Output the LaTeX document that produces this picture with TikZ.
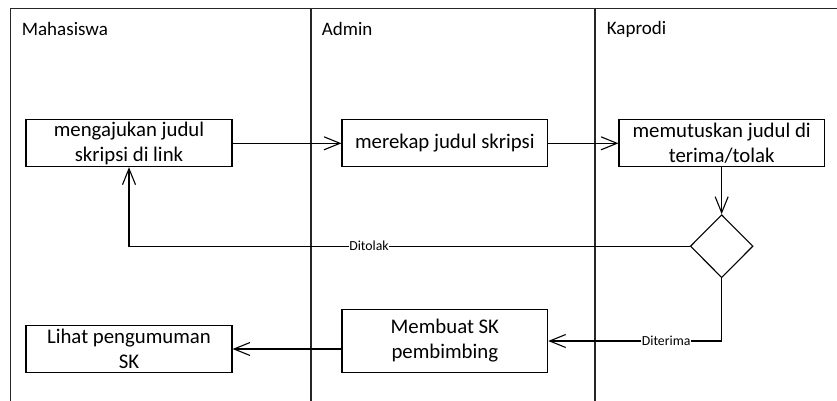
\documentclass[tikz,border=0pt]{standalone}
\usepackage{fontspec}
\setmainfont{Carlito}
\usetikzlibrary{arrows.meta,shapes.geometric}

\tikzset{
  lane/.style={line width=1.4pt, draw=black!85},
  frame/.style={line width=1.2pt, draw=black!85},
  act/.style={draw, line width=1.1pt, rectangle, inner sep=0pt, align=center,
              font=\fontsize{20.8}{25}\selectfont},
  decision/.style={draw, line width=1.1pt, diamond, inner sep=0pt,
                   minimum width=62.7pt, minimum height=63pt},
  flow/.style={line width=1.1pt, -{Straight Barb[length=16pt, width=13pt, line width=1.1pt]}},
  guard/.style={fill=white, inner sep=0.5pt, font=\fontsize{13.8}{16}\selectfont},
  lanelabel/.style={anchor=west, inner sep=0pt, font=\fontsize{19}{22}\selectfont}
}

\begin{document}
\begin{tikzpicture}[x=1pt, y=-1pt]
  \useasboundingbox (0,0) rectangle (837,401);

  % swimlane frame and dividers
  \draw[frame] (10.3,401) -- (10.3,8.5) -- (837,8.5);
  \draw[lane] (310.8,8.5) -- (310.8,401);
  \draw[lane] (594.8,8.5) -- (594.8,401);

  \node[lanelabel] (lm) at (21.7,29.3) {Mahasiswa};
  \node[lanelabel] (la) at (321.7,29.3) {Admin};
  \node[lanelabel] (lk) at (606.7,29.3) {Kaprodi};

  % activities
  \node[act, minimum width=206pt, minimum height=46.7pt] (b1) at (129,143.3)
       {mengajukan judul\\skripsi di link};
  \node[act, minimum width=205.7pt, minimum height=46.7pt] (b2) at (444.85,143.3)
       {merekap judul skripsi};
  \node[act, minimum width=205.3pt, minimum height=46.7pt] (b3) at (721.65,143.3)
       {memutuskan judul di\\terima/tolak};
  \node[decision] (dec) at (721.65,246.2) {};
  \node[act, minimum width=205.7pt, minimum height=63.4pt] (b5) at (444.85,341)
       {Membuat SK\\pembimbing};
  \node[act, minimum width=206pt, minimum height=47.4pt] (b6) at (129,349)
       {Lihat pengumuman\\SK};

  % control flow
  \draw[flow] (b1) -- (b2);
  \draw[flow] (b2) -- (b3);
  \draw[flow] (b3) -- (dec);
  \draw[flow] (dec.west) -| node[guard, pos=0.286] {Ditolak} (b1.south);
  \draw[flow] (dec.south) |- node[guard, pos=0.66] {Diterima} (b5.east);
  \draw[flow] (b5.west |- b6.east) -- (b6.east);
\end{tikzpicture}
\end{document}
